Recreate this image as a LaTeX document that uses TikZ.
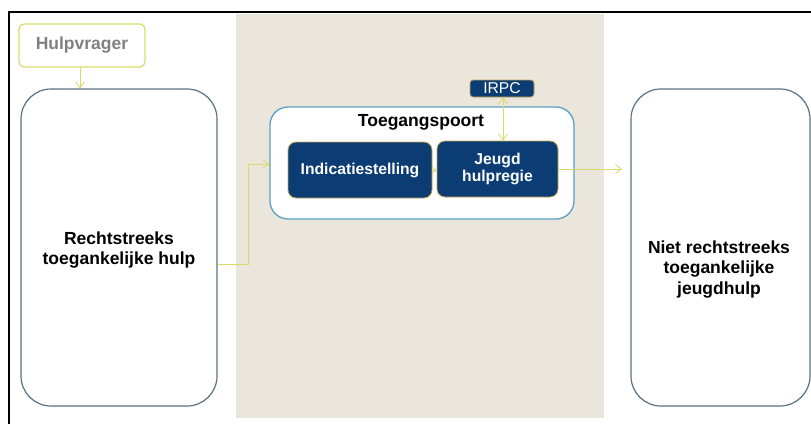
\documentclass[tikz,border=0pt]{standalone}
\usepackage{fontspec}
\setmainfont{Liberation Sans}
\usetikzlibrary{arrows.meta}
\definecolor{beige}{HTML}{EBE6DC}
\definecolor{slate}{HTML}{5A7282}
\definecolor{navy}{HTML}{0B3C74}
\definecolor{goldb}{HTML}{C8A850}
\definecolor{lime}{HTML}{D9DA6A}
\definecolor{lblue}{HTML}{5AA0C4}
\definecolor{greytxt}{HTML}{808080}
\tikzset{
  bigbox/.style={draw=slate, line width=1.2pt, rounded corners=30pt, fill=white},
  bigtext/.style={align=center, font=\bfseries\fontsize{17.5}{20.5}\selectfont},
  navybox/.style={draw=goldb, line width=0.8pt, fill=navy, rounded corners=8pt, text=white, font=\bfseries\fontsize{15.7}{17.5}\selectfont, align=center},
  conn/.style={draw=lime, line width=0.8pt, -{Straight Barb[length=6pt,width=9pt]}},
}
\begin{document}
\begin{tikzpicture}[x=1pt,y=-1pt]
\useasboundingbox (0,0) rectangle (811,423);
\fill[white] (0,0) rectangle (811,423);
% background band
\fill[beige] (236,14) rectangle (604,418);
% black frame
\draw[black, line width=2.2pt] (9,430) -- (9,12) -- (820,12);
% Hulpvrager
\node[draw=lime, line width=1.2pt, rounded corners=5pt, fill=white, minimum width=126pt, minimum height=43pt, text=greytxt, font=\bfseries\fontsize{17.5}{20}\selectfont] (hv) at (82,45.5) {Hulpvrager};
% big boxes
\node[bigbox, minimum width=196pt, minimum height=317pt] (left) at (119,247.5) {};
\node[bigtext] (leftl) at (119,250) {Rechtstreeks\\toegankelijke hulp};
\node[bigbox, minimum width=179pt, minimum height=317pt] (right) at (720.5,247.5) {};
\node[bigtext] (rightl) at (719,269.5) {Niet rechtstreeks\\toegankelijke\\jeugdhulp};
% Toegangspoort
\node[draw=lblue, line width=1.3pt, fill=white, rounded corners=18pt, minimum width=304pt, minimum height=112pt] (tp) at (422,163) {};
\node[font=\bfseries\fontsize{17.5}{20}\selectfont, anchor=center] (tpl) at (421,122) {Toegangspoort};
\node[navybox, minimum width=144pt, minimum height=56pt] (ind) at (360,170) {Indicatiestelling};
\node[navybox, minimum width=121pt, minimum height=56pt] (jh) at (497.5,169) {Jeugd\\hulpregie};
\node[navybox, rounded corners=3pt, minimum width=64pt, minimum height=17pt, inner sep=0pt, font=\fontsize{15.7}{17}\selectfont] (irpc) at (502,88.5) {IRPC};
% connectors
\draw[conn] (hv.south -| 80,0) -- (left.north -| 80,0);
\coordinate (bend1) at (248,264);
\draw[conn] (left.east |- bend1) -- (bend1) -- (248,164) -- (tp.west |- 0,164);
\draw[conn, -{Straight Barb[length=3pt,width=5pt]}] (ind.east |- 0,170) -- (jh.west |- 0,170);
\draw[draw=lime, line width=0.8pt, {Straight Barb[length=6pt,width=9pt]}-{Straight Barb[length=6pt,width=9pt]}] (irpc.south -| 503,0) -- (jh.north -| 503,0);
\coordinate (rend) at (622,169);
\draw[conn] (jh.east |- rend) -- (rend);
\end{tikzpicture}
\end{document}
